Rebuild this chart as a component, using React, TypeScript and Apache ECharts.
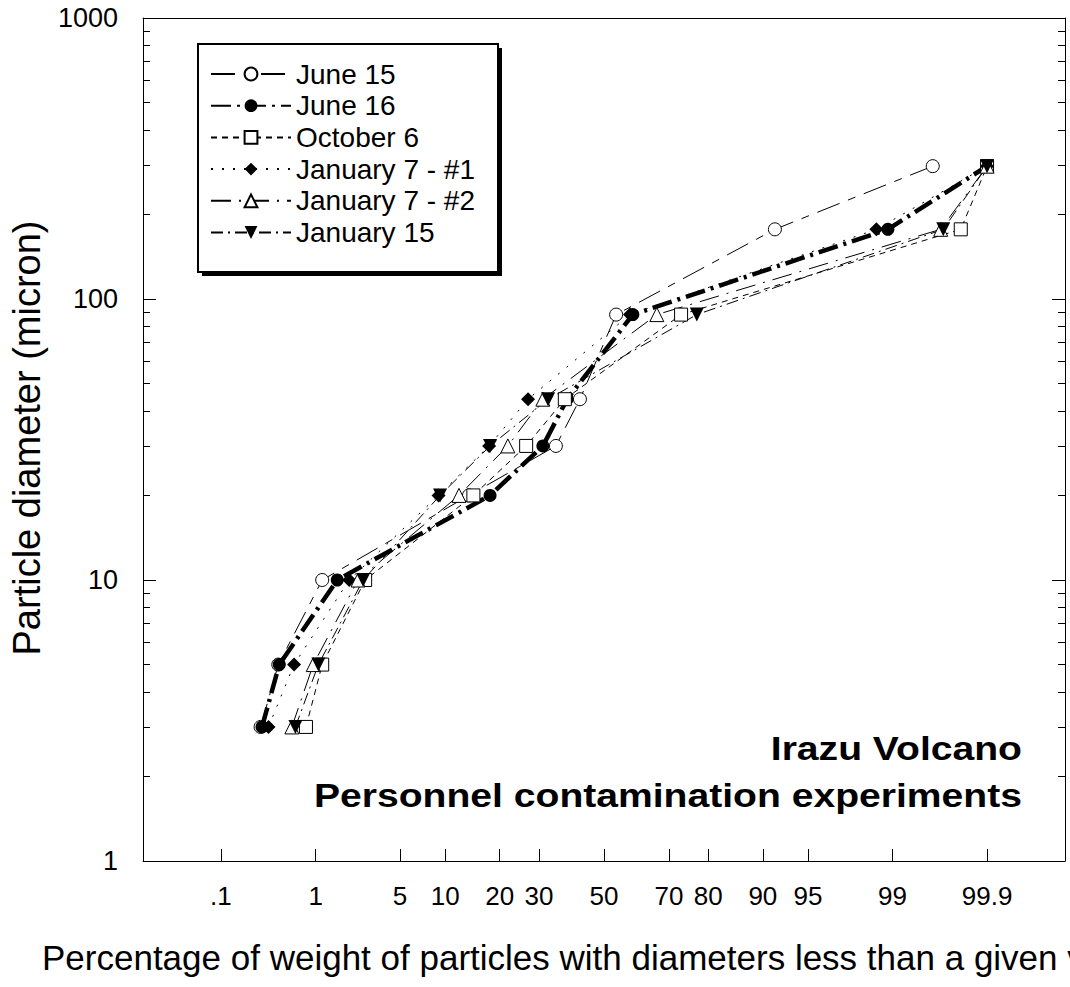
import React, { useEffect, useRef } from 'react';
import * as echarts from 'echarts';

const FONT = '"Liberation Sans", Arial, Helvetica, sans-serif';

// particle diameters (micron) of the sieve fractions
const sizes = [3, 5, 10, 20, 30, 44, 88, 177, 297];
// cumulative weight percentage finer than each size
const june15 = [0.28, 0.43, 1.15, 13.8, 34.9, 42.3, 53.9, 91.6, 99.6];
const june16 = [0.29, 0.44, 1.57, 17.9, 31.1, 38.3, 59.2, 98.9, 99.9];
const october6 = [0.81, 1.15, 2.7, 14.6, 26.5, 37.6, 73.3, 99.8, 99.9];
const january7a = [0.34, 0.62, 1.99, 9.1, 17.7, 27.0, 58.3, 98.6, 99.9];
const january7b = [0.59, 0.95, 2.36, 12.1, 21.9, 31.1, 66.5, 99.67, 99.9];
const january15 = [0.64, 1.06, 2.6, 9.3, 17.9, 32.6, 77.3, 99.69, 99.9];

const seriesNames = ['June 15', 'June 16', 'October 6', 'January 7 - #1', 'January 7 - #2', 'January 15'];

const xTickPercents = [0.1, 1, 5, 10, 20, 30, 50, 70, 80, 90, 95, 99, 99.9];
const xTickLabels = ['.1', '1', '5', '10', '20', '30', '50', '70', '80', '90', '95', '99', '99.9'];
const xRangePercent = [0.01, 99.99];
const yMajorTicks = [1, 10, 100, 1000];
const yMinorTicks = [2, 3, 4, 5, 6, 7, 8, 9, 20, 30, 40, 50, 60, 70, 80, 90, 200, 300, 400, 500, 600, 700, 800, 900];

const xTitle = 'Percentage of weight of particles with diameters less than a given value';
const yTitle = 'Particle diameter (micron)';
const noteLine1 = 'Irazu Volcano';
const noteLine2 = 'Personnel contamination experiments';

// inverse standard normal CDF (Acklam) -> probability-paper scale
function probit(p: number): number {
  const a = [-3.969683028665376e1, 2.209460984245205e2, -2.759285104469687e2, 1.38357751867269e2, -3.066479806614716e1, 2.506628277459239];
  const b = [-5.447609879822406e1, 1.615858368580409e2, -1.556989798598866e2, 6.680131188771972e1, -1.328068155288572e1];
  const c = [-7.784894002430293e-3, -3.223964580411365e-1, -2.400758277161838, -2.549732539343734, 4.374664141464968, 2.938163982698783];
  const d = [7.784695709041462e-3, 3.224671290700398e-1, 2.445134137142996, 3.754408661907416];
  const pl = 0.02425;
  if (p < pl) {
    const q = Math.sqrt(-2 * Math.log(p));
    return (((((c[0] * q + c[1]) * q + c[2]) * q + c[3]) * q + c[4]) * q + c[5]) / ((((d[0] * q + d[1]) * q + d[2]) * q + d[3]) * q + 1);
  }
  if (p <= 1 - pl) {
    const q = p - 0.5;
    const r = q * q;
    return ((((((a[0] * r + a[1]) * r + a[2]) * r + a[3]) * r + a[4]) * r + a[5]) * q) / (((((b[0] * r + b[1]) * r + b[2]) * r + b[3]) * r + b[4]) * r + 1);
  }
  const q = Math.sqrt(-2 * Math.log(1 - p));
  return -(((((c[0] * q + c[1]) * q + c[2]) * q + c[3]) * q + c[4]) * q + c[5]) / ((((d[0] * q + d[1]) * q + d[2]) * q + d[3]) * q + 1);
}
const px = (pct: number) => probit(pct / 100);
const ly = (v: number) => Math.log10(v);

const toData = (pcts: number[]) => pcts.map((p, i) => [px(p), ly(sizes[i])]);

export default function App() {
  const ref = useRef<HTMLDivElement>(null);
  useEffect(() => {
    if (!ref.current) return;
    const chart = echarts.init(ref.current, undefined, { renderer: 'svg' });
    const xTickVals = xTickPercents.map(px);
    const hollow = { color: '#fff', borderColor: '#000', borderWidth: 1 };
    const filled = { color: '#000', borderColor: '#000', borderWidth: 0 };
    const mk = (name: string, pcts: number[], symbol: string, size: number, item: any, line: any, rotate = 0) => ({
      name,
      type: 'line',
      data: toData(pcts),
      symbol,
      symbolSize: size,
      symbolRotate: rotate,
      showAllSymbol: true,
      itemStyle: item,
      lineStyle: { color: '#000', ...line },
      emphasis: { disabled: true },
      z: 3,
    });
    const axisBase = { type: 'value', min: ly(1), max: ly(1000), splitLine: { show: false } };
    chart.setOption({
      animation: false,
      grid: { left: 143, right: 5, top: 18, bottom: 126, containLabel: false },
      xAxis: [
        {
          type: 'value',
          min: px(xRangePercent[0]),
          max: px(xRangePercent[1]),
          position: 'bottom',
          splitLine: { show: false },
          axisLine: { show: true, onZero: false, lineStyle: { color: '#000', width: 1 } },
          axisTick: { show: true, inside: true, length: 12, customValues: xTickVals, lineStyle: { color: '#000' } },
          axisLabel: {
            show: true,
            customValues: xTickVals,
            margin: 22,
            fontSize: 26,
            color: '#000',
            fontFamily: FONT,
            formatter: (v: number) => {
              let best = 0;
              xTickVals.forEach((t, i) => {
                if (Math.abs(t - v) < Math.abs(xTickVals[best] - v)) best = i;
              });
              return xTickLabels[best];
            },
          },
        },
        {
          type: 'value',
          min: px(xRangePercent[0]),
          max: px(xRangePercent[1]),
          position: 'top',
          splitLine: { show: false },
          axisLine: { show: true, onZero: false, lineStyle: { color: '#000', width: 1 } },
          axisTick: { show: false },
          axisLabel: { show: false },
        },
      ],
      yAxis: [
        {
          ...axisBase,
          position: 'left',
          axisLine: { show: true, onZero: false, lineStyle: { color: '#000', width: 1 } },
          axisTick: { show: true, inside: true, length: 13, customValues: yMajorTicks.map(ly), lineStyle: { color: '#000' } },
          axisLabel: {
            show: true,
            customValues: yMajorTicks.map(ly),
            margin: 25,
            fontSize: 27,
            color: '#000',
            fontFamily: FONT,
            formatter: (v: number) => String(Math.round(Math.pow(10, v))),
          },
        },
        {
          ...axisBase,
          position: 'left',
          axisLine: { show: false, onZero: false },
          axisTick: { show: true, inside: true, length: 7, customValues: yMinorTicks.map(ly), lineStyle: { color: '#000' } },
          axisLabel: { show: false },
        },
        {
          ...axisBase,
          position: 'right',
          axisLine: { show: true, onZero: false, lineStyle: { color: '#000', width: 1 } },
          axisTick: { show: true, inside: true, length: 7, customValues: yMinorTicks.map(ly), lineStyle: { color: '#000' } },
          axisLabel: { show: false },
        },
        {
          ...axisBase,
          position: 'right',
          axisLine: { show: false, onZero: false },
          axisTick: { show: true, inside: true, length: 13, customValues: yMajorTicks.map(ly), lineStyle: { color: '#000' } },
          axisLabel: { show: false },
        },
      ],
      legend: {
        orient: 'vertical',
        left: 210,
        top: 60,
        itemWidth: 80,
        itemHeight: 16,
        itemGap: 3.7,
        padding: 0,
        selectedMode: false,
        textStyle: { fontSize: 28, lineHeight: 28, color: '#000', fontFamily: FONT },
        data: seriesNames,
      },
      graphic: [
        { type: 'rect', z: 0, shape: { x: 202, y: 48, width: 300, height: 228 }, style: { fill: '#000' } },
        { type: 'rect', z: 1, shape: { x: 198, y: 44, width: 300, height: 228 }, style: { fill: '#fff', stroke: '#000', lineWidth: 2 } },
        {
          type: 'text', z: 5, x: 27, y: 438, rotation: Math.PI / 2,
          style: { text: yTitle, fontSize: 38, fontFamily: FONT, fill: '#000', align: 'center', verticalAlign: 'middle' },
        },
        {
          type: 'text', z: 5, x: 42, y: 957,
          style: { text: xTitle, fontSize: 35, fontFamily: FONT, fill: '#000', align: 'left', verticalAlign: 'middle' },
        },
        {
          type: 'text', z: 5, x: 1022, y: 748, scaleX: 1.15,
          style: { text: noteLine1, fontSize: 34, fontWeight: 'bold', fontFamily: FONT, fill: '#000', align: 'right', verticalAlign: 'middle' },
        },
        {
          type: 'text', z: 5, x: 1022, y: 795, scaleX: 1.15,
          style: { text: noteLine2, fontSize: 34, fontWeight: 'bold', fontFamily: FONT, fill: '#000', align: 'right', verticalAlign: 'middle' },
        },
      ],
      series: [
        mk(seriesNames[0], june15, 'circle', 13, hollow, { width: 1, type: [24, 9, 8, 9] }),
        mk(seriesNames[1], june16, 'circle', 13, filled, { width: 4.5, type: [20, 6, 3, 6] }),
        mk(seriesNames[2], october6, 'rect', 13, hollow, { width: 1, type: [6, 5] }),
        mk(seriesNames[3], january7a, 'diamond', 14, filled, { width: 1, type: [2, 9] }),
        mk(seriesNames[4], january7b, 'triangle', 14, hollow, { width: 1, type: [20, 8, 2, 8] }),
        mk(seriesNames[5], january15, 'triangle', 14, filled, { width: 1, type: [12, 5, 2, 5] }, 180),
      ],
    });
    return () => chart.dispose();
  }, []);
  return <div ref={ref} style={{ position: 'fixed', left: 0, top: 0, width: 1070, height: 987, background: '#fff' }} />;
}
